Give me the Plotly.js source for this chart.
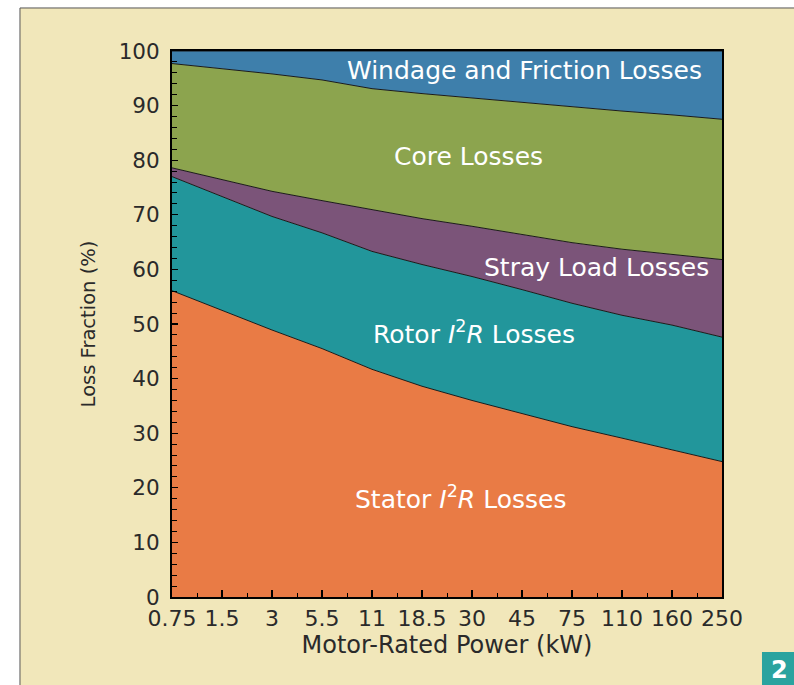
<!DOCTYPE html>
<html>
<head>
<meta charset="utf-8">
<script src="https://cdn.plot.ly/plotly-3.0.1.min.js"></script>
<style>html,body{margin:0;padding:0;background:#fff;}#chart{width:794px;height:685px;}</style>
</head>
<body>
<div id="chart"></div>
<script>
// Motor-rated power categories (kW)
const powerKW = ["0.75", "1.5", "3", "5.5", "11", "18.5", "30", "45", "75", "110", "160", "250"];
// Loss fractions (%) for each component
const statorLoss  = [56.1, 52.5, 48.9, 45.5, 41.7, 38.6, 36.0, 33.6, 31.2, 29.1, 26.9, 24.8];
const rotorLoss   = [20.9, 20.8, 20.8, 21.2, 21.6, 22.3, 22.7, 22.7, 22.6, 22.5, 22.9, 22.8];
const strayLoss   = [1.6, 3.1, 4.6, 5.9, 7.6, 8.4, 9.2, 10.1, 11.1, 12.1, 12.9, 14.2];
const coreLoss    = [19.1, 20.4, 21.5, 22.1, 22.2, 22.9, 23.5, 24.2, 24.8, 25.3, 25.6, 25.7];
const windageLoss = [2.3, 3.2, 4.2, 5.3, 6.9, 7.8, 8.6, 9.4, 10.3, 11.0, 11.7, 12.5];
const yTicks = [0, 10, 20, 30, 40, 50, 60, 70, 80, 90, 100];

const xIdx = powerKW.map((_, i) => i);
const FONT = 'DejaVu Sans, Liberation Sans, Arial, sans-serif';

function area(name, y, fill) {
  return {
    type: 'scatter', mode: 'lines', name: name, x: xIdx, y: y,
    stackgroup: 'one', fillcolor: fill,
    line: {color: '#1a1a1a', width: 1, shape: 'linear'},
    hoverinfo: 'x+y+name'
  };
}

const data = [
  area('Stator I²R Losses', statorLoss, '#e97b45'),
  area('Rotor I²R Losses', rotorLoss, '#22969b'),
  area('Stray Load Losses', strayLoss, '#7b5479'),
  area('Core Losses', coreLoss, '#8ca44e'),
  area('Windage and Friction Losses', windageLoss, '#3e7fab')
];

const labelFont = {family: FONT, size: 25, color: '#ffffff'};

const layout = {
  width: 794, height: 685,
  margin: {l: 172, r: 72, t: 51, b: 88},
  paper_bgcolor: '#ffffff',
  plot_bgcolor: '#f1e7ba',
  showlegend: false,
  font: {family: FONT, size: 20, color: '#2a2a2a'},
  xaxis: {
    type: 'linear', range: [0, 11],
    tickvals: xIdx, ticktext: powerKW,
    ticks: 'inside', ticklen: 7, tickwidth: 1.2, tickcolor: '#000',
    minor: {dtick: 0.5, tick0: 0, ticks: 'inside', ticklen: 4, tickwidth: 1, tickcolor: '#000'},
    showline: true, linecolor: '#000', linewidth: 2, mirror: true,
    showgrid: false, zeroline: false,
    ticklabelstandoff: 1,
    tickfont: {family: FONT, size: 22, color: '#2a2a2a'},
    title: {text: 'Motor-Rated Power (kW)', font: {family: FONT, size: 24, color: '#2a2a2a'}, standoff: 6}
  },
  yaxis: {
    range: [0, 100],
    tickvals: yTicks,
    ticks: 'inside', ticklen: 6, tickwidth: 1.2, tickcolor: '#000',
    minor: {dtick: 2, tick0: 0, ticks: 'inside', ticklen: 5, tickwidth: 1, tickcolor: '#000'},
    showline: true, linecolor: '#000', linewidth: 2, mirror: true,
    showgrid: false, zeroline: false,
    ticklabelstandoff: 6,
    tickfont: {family: FONT, size: 21.5, color: '#2a2a2a'},
    title: {text: 'Loss Fraction (%)', font: {family: FONT, size: 19.5, color: '#2a2a2a'}, standoff: 18}
  },
  shapes: [
    {type: 'rect', xref: 'paper', yref: 'paper', x0: -0.2764, x1: 1.2, y0: -0.3, y1: 1.0788,
     fillcolor: '#f1e7ba', line: {color: '#555', width: 1}, layer: 'below'},
    {type: 'rect', xref: 'paper', yref: 'paper', x0: 1.0727, x1: 1.2, y0: -0.3, y1: -0.1007,
     fillcolor: '#2aa39f', line: {width: 0}, layer: 'above'}
  ],
  annotations: [
    {x: 7.04, y: 96.4, xref: 'x', yref: 'y', text: 'Windage and Friction Losses', showarrow: false, font: labelFont},
    {x: 5.92, y: 80.6, xref: 'x', yref: 'y', text: 'Core Losses', showarrow: false, font: labelFont},
    {x: 8.48, y: 60.4, xref: 'x', yref: 'y', text: 'Stray Load Losses', showarrow: false, font: labelFont},
    {x: 6.04, y: 48.5, xref: 'x', yref: 'y', text: 'Rotor <i>I</i><sup>2</sup><i>R</i> Losses', showarrow: false, font: labelFont},
    {x: 5.76, y: 18.3, xref: 'x', yref: 'y', text: 'Stator <i>I</i><sup>2</sup><i>R</i> Losses', showarrow: false, font: labelFont},
    {x: 1.104, y: -0.1044, xref: 'paper', yref: 'paper', xanchor: 'center', yanchor: 'top',
     text: '<b>2</b>', showarrow: false,
     font: {family: FONT, size: 24, color: '#ffffff'}}
  ]
};

Plotly.newPlot('chart', data, layout, {displayModeBar: false, staticPlot: true});
</script>
</body>
</html>
